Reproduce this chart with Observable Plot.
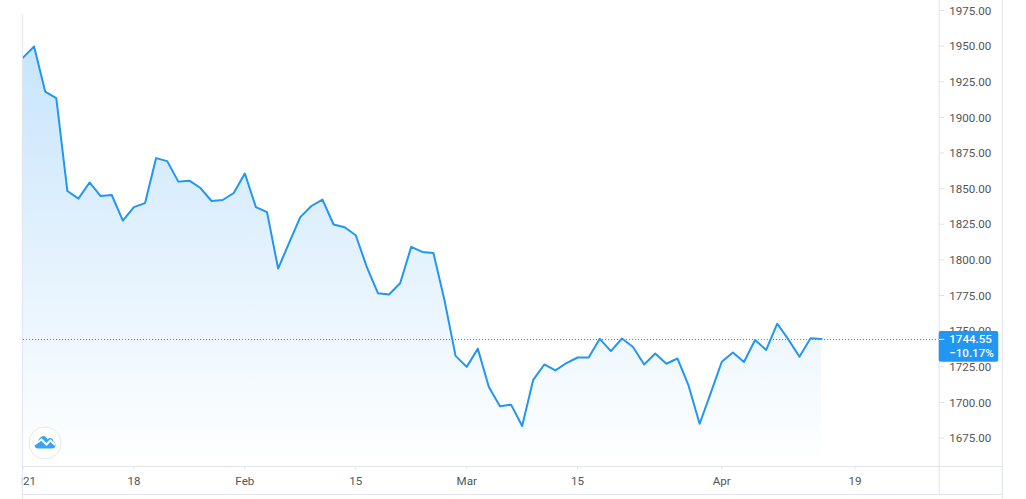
<!DOCTYPE html>
<html><head><meta charset="utf-8">
<script src="https://cdn.jsdelivr.net/npm/d3@7"></script>
<script src="https://cdn.jsdelivr.net/npm/@observablehq/plot@0.6"></script>
<style>html,body{margin:0;padding:0;background:#fff}svg{display:block}</style>
</head><body><div id="chart"></div>
<script>
const prices = [1941.9,1949.7,1918.1,1913.5,1848.3,1843,1854.3,1844.8,1845.5,1827.6,1837,1839.8,1871.4,1869.3,1854.9,1855.6,1850.4,1841.3,1842,1846.9,1860.6,1837,1833.5,1793.9,1812.1,1830,1837.8,1842.3,1824.8,1822.9,1817.3,1794.9,1776.6,1775.7,1783.6,1809.1,1805.6,1804.9,1771.6,1732.6,1724.9,1737.7,1710.8,1697.2,1698.4,1683.4,1715.8,1726.6,1722.4,1727.6,1731.5,1731.5,1744.6,1736,1744.8,1738.8,1726.6,1734.3,1727.1,1730.8,1711.9,1685,1706.5,1728.5,1735,1728.3,1743.8,1736.8,1755.2,1744.2,1732,1745,1744.55];
const priceTicks = [1675,1700,1725,1750,1775,1800,1825,1850,1875,1900,1925,1950,1975];
const dateTickIndex = [0,10,20,30,40,50,63,75];
const dateTickLabels = ["2021","18","Feb","15","Mar","15","Apr","19"];
const lastLabel = ["1744.55","−10.17%"];

const last = prices[prices.length-1];
const table = prices.map((p,i)=>({i,p}));
const ink = "#555555", grid = "#e0e3eb", blue = "#2196f3";
const xMin = 0, xAxis = 82.6, xEdge = 88.3, yBase = 1655, yLow = 1635.4, yTop = 1982, yBottom = 1631.8;
const font = "Roboto, sans-serif";
const labelSize = 11.6;

const defs = () => {
  const s = d3.create("svg:defs");
  const g = s.append("linearGradient").attr("id","fade").attr("x1",0).attr("x2",0).attr("y1",0).attr("y2",1);
  g.append("stop").attr("offset","0%").attr("stop-color",blue).attr("stop-opacity",0.25);
  g.append("stop").attr("offset","100%").attr("stop-color",blue).attr("stop-opacity",0);
  return s.node();
};
const logo = () => {
  const g = d3.create("svg:g").attr("transform","translate(45,443)");
  g.append("circle").attr("r",16).attr("fill","#fff").attr("stroke","#e8e8ea").attr("stroke-width",1);
  g.append("path").attr("fill","#3aa3f2")
    .attr("d","M-7 5.5 C-11 5.5 -11.5 0.5 -8 -0.5 C-6.5 -3 -4.5 -7 -1.5 -7 C0.5 -7 1.5 -5.5 2.5 -3.5 C4 -5.5 6 -5.5 7.5 -4 C8.5 -3 8.5 -1.5 8.5 -1 C11.5 0 11 5.5 7.5 5.5 Z");
  g.append("path").attr("fill","none").attr("stroke","#fff").attr("stroke-width",2)
    .attr("d","M-10.5 1.5 L-3.5 -3.5 L1.5 1.5 L5.5 -2.5 L10 2");
  return g.node();
};

const plot = Plot.plot({
  width: 1026, height: 499,
  marginLeft: 22.5, marginRight: 87.3, marginTop: 0, marginBottom: 33,
  style: {fontFamily: font, fontSize: "12px", background: "#fff", overflow: "hidden"},
  x: {domain: [xMin, xAxis], axis: null},
  y: {domain: [yBase, yTop], axis: null},
  marks: [
    defs,
    Plot.areaY(table, {x:"i", y:"p", y1:yBase, fill:"url(#fade)"}),
    Plot.ruleY([last], {x1:0, x2:xAxis, stroke:blue, strokeWidth:1, strokeDasharray:"1 2", dy:0.5, shapeRendering:"crispEdges"}),
    Plot.line(table, {x:"i", y:"p", stroke:blue, strokeWidth:2, strokeLinejoin:"round"}),
    Plot.ruleY(priceTicks, {x1:xAxis, x2:xAxis+0.5, stroke:grid}),
    Plot.text(priceTicks, {x:xAxis, y:d=>d, text:d=>d.toFixed(2), dx:10, dy:0.5, textAnchor:"start", fill:ink, fontSize:labelSize}),
    Plot.ruleX(dateTickIndex, {y1:yBase, y2:yBase-2.5, stroke:grid}),
    Plot.text(dateTickIndex, {x:d=>d, y:yBase, text:(d,i)=>dateTickLabels[i], dy:15, fill:ink, fontSize:labelSize}),
    Plot.rect([0], {x1:-3, x2:-0.06, y1:yBase-1, y2:yBase-25, fill:"#fff"}),
    Plot.ruleX([-0.06], {y1:yBottom, y2:1972, stroke:grid}),
    Plot.ruleX([xAxis], {y1:yLow, y2:yTop, stroke:grid}),
    Plot.ruleX([xEdge], {y1:yBottom, y2:yTop, stroke:grid}),
    Plot.ruleY([yBase, yLow], {x1:-0.06, x2:xEdge, stroke:grid}),
    Plot.rect([last], {x1:xAxis, x2:xAxis+5.37, y1:d=>d+5.2, y2:d=>d-16.35, fill:blue, rx:2}),
    Plot.ruleY([last], {x1:xAxis, x2:xAxis+0.5, stroke:"#fff", dy:0.5}),
    Plot.text([last], {x:xAxis, y:d=>d, text:()=>lastLabel[0], dx:10, dy:0.5, textAnchor:"start", fill:"#fff", fontSize:labelSize, fontWeight:500}),
    Plot.text([last], {x:xAxis, y:d=>d, text:()=>lastLabel[1], dx:10, dy:14.5, textAnchor:"start", fill:"#fff", fontSize:labelSize, fontWeight:500}),
    logo
  ]
});
document.getElementById("chart").append(plot);
</script></body></html>
